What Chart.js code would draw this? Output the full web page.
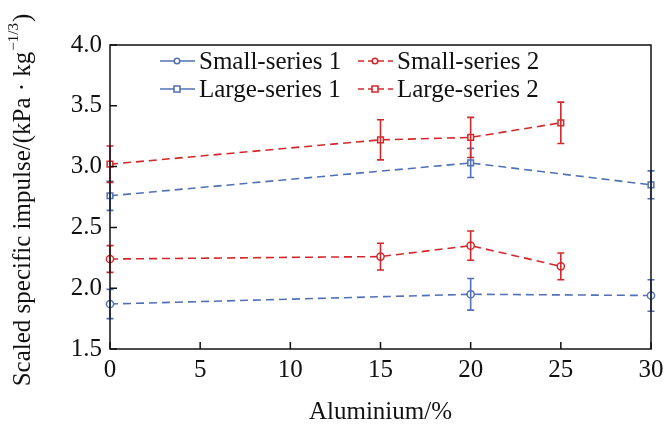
<!DOCTYPE html>
<html lang="en">
<head>
  <meta charset="UTF-8">
  <title>Scaled specific impulse vs aluminium</title>
  <script src="https://cdn.jsdelivr.net/npm/chart.js"></script>
  <style>
    html, body { margin: 0; padding: 0; background: #fff; }
    #wrap { width: 665px; height: 424px; }
  </style>
</head>
<body>
<div id="wrap"><canvas id="impulseChart" width="665" height="424"></canvas></div>
<script>
  // data
  const small1X = [0, 20, 30];
  const small1Y = [1.87, 1.95, 1.94];
  const small1Err = [0.12, 0.13, 0.13];

  const small2X = [0, 15, 20, 25];
  const small2Y = [2.24, 2.26, 2.35, 2.18];
  const small2Err = [0.11, 0.11, 0.12, 0.11];

  const large1X = [0, 20, 30];
  const large1Y = [2.76, 3.03, 2.85];
  const large1Err = [0.12, 0.12, 0.115];

  const large2X = [0, 15, 20, 25];
  const large2Y = [3.02, 3.22, 3.24, 3.36];
  const large2Err = [0.15, 0.165, 0.165, 0.17];

  const xTicks = [0, 5, 10, 15, 20, 25, 30];
  const yTicks = [1.5, 2.0, 2.5, 3.0, 3.5, 4.0];

  const BLUE = '#5270b4';
  const RED = '#d2282c';
  const SERIF = '"Liberation Serif", "DejaVu Serif", serif';
  const FS = 25;

  const pts = (xs, ys) => xs.map((x, i) => ({ x: x, y: ys[i] }));

  const series = [
    { label: 'Small-series 1', xs: small1X, ys: small1Y, err: small1Err, color: BLUE, style: 'circle', legendDash: [] },
    { label: 'Small-series 2', xs: small2X, ys: small2Y, err: small2Err, color: RED, style: 'circle', legendDash: [6, 4] },
    { label: 'Large-series 1', xs: large1X, ys: large1Y, err: large1Err, color: BLUE, style: 'rect', legendDash: [] },
    { label: 'Large-series 2', xs: large2X, ys: large2Y, err: large2Err, color: RED, style: 'rect', legendDash: [6, 4] }
  ];

  // error bars, frame, inward ticks, legend and axis titles
  const extras = {
    id: 'extras',
    afterDatasetsDraw(chart) {
      const c = chart.ctx;
      const xs = chart.scales.x, ys = chart.scales.y;
      const a = chart.chartArea;
      c.save();
      // error bars
      series.forEach(s => {
        c.strokeStyle = s.color;
        c.lineWidth = 1.6;
        c.setLineDash([]);
        s.xs.forEach((x, i) => {
          const px = xs.getPixelForValue(x);
          const top = ys.getPixelForValue(s.ys[i] + s.err[i]);
          const bot = ys.getPixelForValue(s.ys[i] - s.err[i]);
          c.beginPath();
          c.moveTo(px, top); c.lineTo(px, bot);
          c.moveTo(px - 3.5, top); c.lineTo(px + 3.5, top);
          c.moveTo(px - 3.5, bot); c.lineTo(px + 3.5, bot);
          c.stroke();
        });
      });
      // frame
      c.strokeStyle = '#111';
      c.lineWidth = 1.5;
      c.strokeRect(a.left, a.top, a.right - a.left, a.bottom - a.top);
      // inward ticks
      c.beginPath();
      xTicks.forEach(v => {
        const px = xs.getPixelForValue(v);
        c.moveTo(px, a.bottom); c.lineTo(px, a.bottom - 7);
      });
      yTicks.forEach(v => {
        const py = ys.getPixelForValue(v);
        c.moveTo(a.left, py); c.lineTo(a.left + 7, py);
      });
      c.stroke();

      // legend
      const cols = [160, 358];
      const rows = [61, 89];
      c.font = FS + 'px ' + SERIF;
      c.textBaseline = 'middle';
      series.forEach((s, i) => {
        const lx = cols[i % 2], ly = rows[Math.floor(i / 2)];
        c.strokeStyle = s.color;
        c.lineWidth = 1.6;
        c.setLineDash(s.legendDash);
        c.beginPath(); c.moveTo(lx, ly); c.lineTo(lx + 35, ly); c.stroke();
        c.setLineDash([]);
        c.fillStyle = '#fff';
        c.beginPath();
        if (s.style === 'circle') c.arc(lx + 17, ly, 2.8, 0, Math.PI * 2);
        else c.rect(lx + 14, ly - 3, 6, 6);
        c.fill(); c.stroke();
        c.fillStyle = '#111';
        c.fillText(s.label, lx + 39, ly + 1);
      });

      // x title
      c.textAlign = 'center';
      c.fillText('Aluminium/%', (a.left + a.right) / 2, 412);

      // y title with superscript
      const main = 'Scaled specific impulse/(kPa \u00b7 kg';
      const sup = '\u22121/3';
      const end = ')';
      const big = FS + 'px ' + SERIF, small = '15px ' + SERIF;
      c.font = big; const w1 = c.measureText(main).width; const w3 = c.measureText(end).width;
      c.font = small; const w2 = c.measureText(sup).width;
      const total = w1 + w2 + w3 + 2;
      c.translate(22, 200);
      c.rotate(-Math.PI / 2);
      c.textBaseline = 'alphabetic';
      c.textAlign = 'left';
      const x0 = -total / 2;
      c.font = big; c.fillText(main, x0, 8);
      c.font = small; c.fillText(sup, x0 + w1 + 1, -4);
      c.font = big; c.fillText(end, x0 + w1 + w2 + 2, 8);
      c.restore();
    }
  };

  const ctx = document.getElementById('impulseChart').getContext('2d');
  new Chart(ctx, {
    type: 'line',
    data: {
      datasets: series.map(s => ({
        label: s.label,
        data: pts(s.xs, s.ys),
        borderColor: s.color,
        backgroundColor: '#fff',
        borderWidth: 1.6,
        borderDash: [8, 5],
        pointStyle: s.style,
        pointRadius: s.style === 'rect' ? 4 : 3.6,
        pointBorderWidth: 1.5,
        pointBorderColor: s.color,
        pointBackgroundColor: '#fff',
        tension: 0,
        clip: false
      }))
    },
    options: {
      responsive: false,
      animation: false,
      layout: { padding: { top: 45, right: 14, left: 0, bottom: 0 } },
      plugins: { legend: { display: false }, tooltip: { enabled: false } },
      scales: {
        x: {
          type: 'linear', min: 0, max: 30,
          afterBuildTicks: ax => { ax.ticks = xTicks.map(v => ({ value: v })); },
          afterFit: ax => { ax.height = 75; },
          grid: { display: false },
          border: { display: false },
          ticks: { color: '#111', padding: -2, font: { family: SERIF, size: FS }, maxRotation: 0 }
        },
        y: {
          min: 1.5, max: 4.0,
          afterBuildTicks: ax => { ax.ticks = yTicks.map(v => ({ value: v })); },
          afterFit: ax => { ax.width = 110; },
          grid: { display: false },
          border: { display: false },
          ticks: {
            color: '#111', padding: 0, font: { family: SERIF, size: FS },
            callback: v => v.toFixed(1)
          }
        }
      }
    },
    plugins: [extras]
  });
</script>
</body>
</html>
